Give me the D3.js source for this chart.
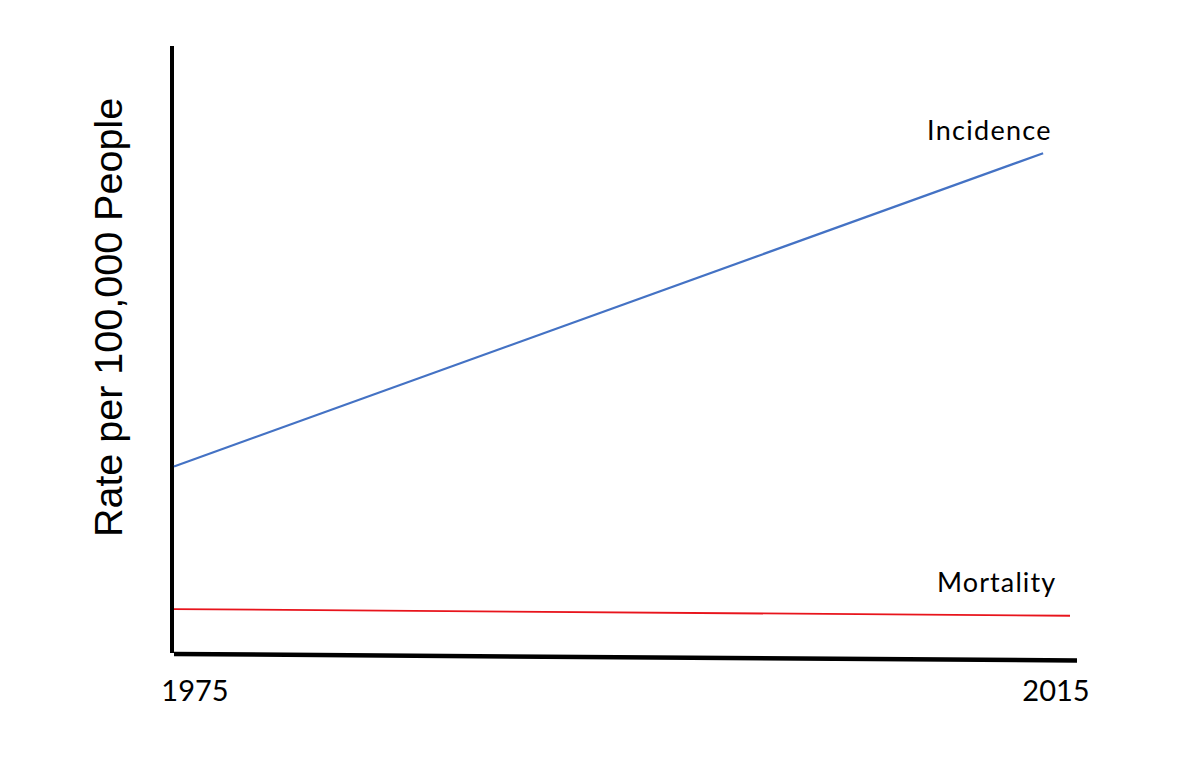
<!DOCTYPE html>
<html>
<head>
<meta charset="utf-8">
<script src="https://cdn.jsdelivr.net/npm/d3@7"></script>
<style>
  html, body { margin: 0; padding: 0; background: #fff; }
  svg { display: block; }
</style>
</head>
<body>
<svg id="chart" width="1200" height="761"></svg>
<script>
// ---- data ----
const tickYears = [1975, 2015];
const incidenceYears = [1975, 2013.8];
const incidenceValues = [30.9, 82.5];
const mortalityYears = [1975, 2015];
const mortalityValues = [7.4, 6.3];
const seriesNames = ["Incidence", "Mortality"];
const yTitle = "Rate per 100,000 People";

// ---- layout ----
const svg = d3.select("#chart");
const x = d3.scaleLinear().domain([1975, 2015]).range([174, 1070]);
const y = d3.scaleLinear().domain([0, 100]).range([654, 47]);
const xTickPos = d3.scaleLinear().domain([1975, 2015]).range([195, 1056]);

const line = d3.line().x(d => x(d[0])).y(d => y(d[1]));

// y axis line
svg.append("line")
  .attr("x1", x(1975) - 2).attr("x2", x(1975) - 2)
  .attr("y1", y(100) - 1).attr("y2", y(0) - 1)
  .attr("stroke", "#000").attr("stroke-width", 4);

// x axis line (slightly slanted as in reference)
svg.append("line")
  .attr("x1", x(1975)).attr("y1", y(0) + 0)
  .attr("x2", x(2015) + 7).attr("y2", y(0) + 6.5)
  .attr("stroke", "#000").attr("stroke-width", 4.5);

// series
svg.append("path")
  .datum(d3.zip(incidenceYears, incidenceValues))
  .attr("d", line)
  .attr("fill", "none")
  .attr("stroke", "#4472c4")
  .attr("stroke-width", 2.2);

svg.append("path")
  .datum(d3.zip(mortalityYears, mortalityValues))
  .attr("d", line)
  .attr("fill", "none")
  .attr("stroke", "#e8141c")
  .attr("stroke-width", 1.8);

// series labels
const labelFont = "Lato, 'Open Sans', sans-serif";
svg.append("text")
  .attr("x", 927).attr("y", 140)
  .attr("font-family", labelFont).attr("font-size", 27)
  .attr("letter-spacing", 1.3)
  .attr("fill", "#000")
  .text(seriesNames[0]);
svg.append("text")
  .attr("x", 937).attr("y", 592)
  .attr("font-family", labelFont).attr("font-size", 27)
  .attr("letter-spacing", 1.1)
  .attr("fill", "#000")
  .text(seriesNames[1]);

// tick labels
svg.selectAll(".tick")
  .data(tickYears)
  .join("text")
  .attr("class", "tick")
  .attr("x", d => xTickPos(d))
  .attr("y", 701)
  .attr("text-anchor", "middle")
  .attr("font-family", labelFont)
  .attr("font-size", 29)
  .attr("fill", "#000")
  .text(d => d);

// y title
svg.append("text")
  .attr("transform", "translate(122,317.5) rotate(-90)")
  .attr("text-anchor", "middle")
  .attr("font-family", "'Liberation Sans', Arial, sans-serif")
  .attr("font-size", 39.5)
  .attr("fill", "#000")
  .text(yTitle);
</script>
</body>
</html>
